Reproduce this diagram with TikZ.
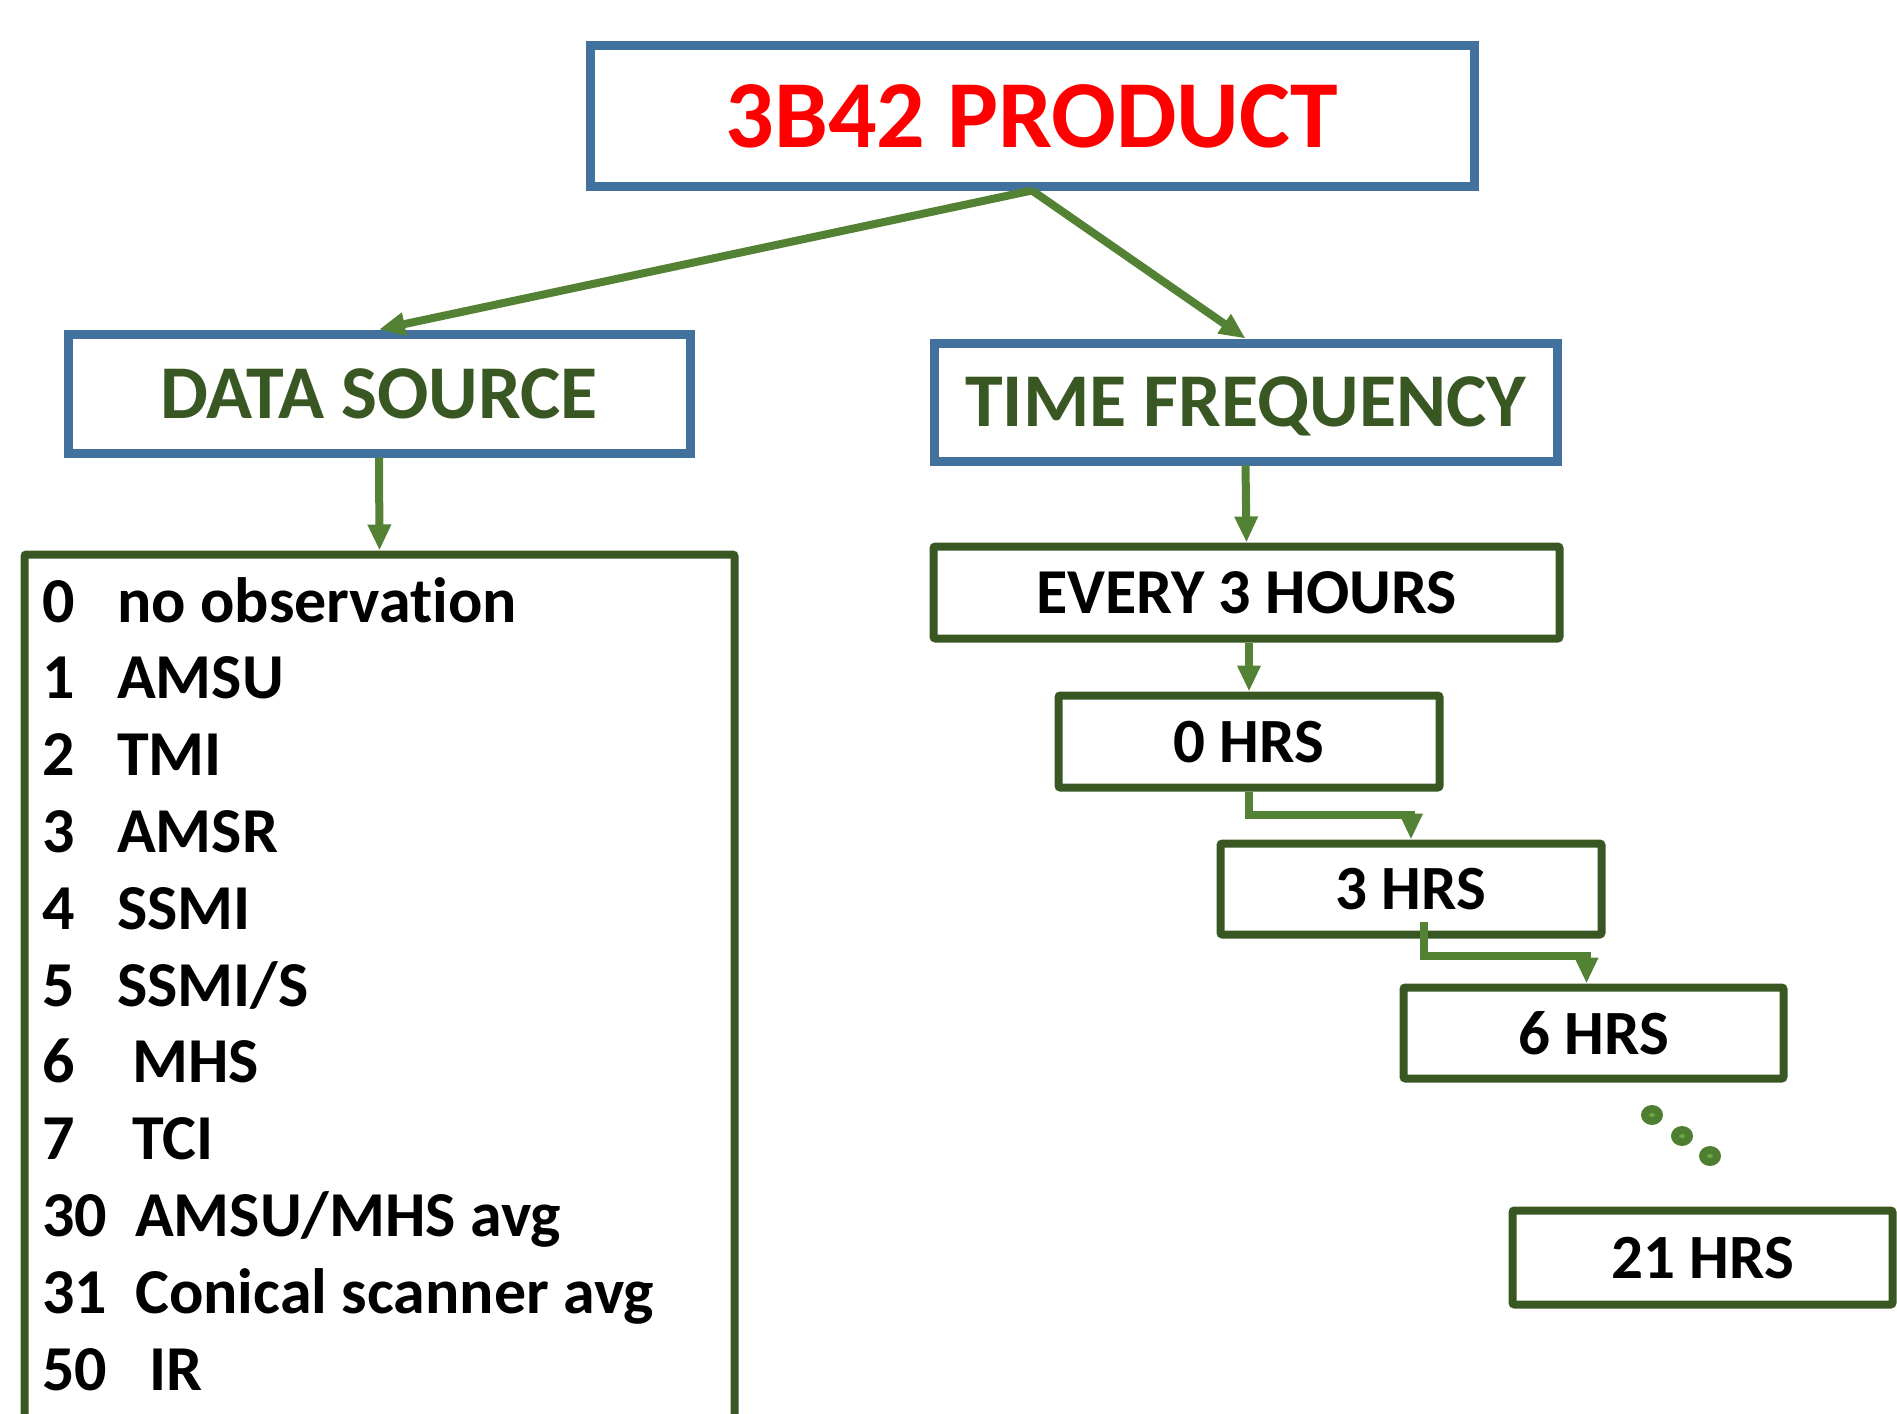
\documentclass[tikz,border=0pt]{standalone}
\usepackage{fontspec}
\setmainfont{Carlito}[Ligatures={NoCommon}]
\usetikzlibrary{arrows.meta,calc}
\definecolor{boxblue}{HTML}{41719C}
\definecolor{boxgreen}{HTML}{385723}
\definecolor{linkgreen}{HTML}{548235}
\definecolor{dotfill}{HTML}{4E7F31}
\definecolor{dotcentre}{HTML}{6DA544}
\newcommand\prodfont{\fontsize{96}{110}\selectfont\bfseries}
\newcommand\headfont{\fontsize{76}{88}\selectfont\bfseries}
\newcommand\stagefont{\fontsize{63}{74}\selectfont\bfseries}
\newcommand\everyfont{\fontsize{64}{75}\selectfont\bfseries}
\newcommand\codefont{\fontsize{64}{75}\selectfont\bfseries}
\begin{document}
\begin{tikzpicture}[x=1pt,y=-1pt,
  headbox/.style={draw=boxblue,line width=9pt,rectangle,inner sep=0pt,text depth=0pt},
  stagebox/.style={draw=boxgreen,line width=8pt,rectangle,rounded corners=2pt,inner sep=0pt,text depth=0pt,font=\stagefont},
  link/.style={draw=linkgreen,line width=8pt,-{Triangle[length=26pt,width=22pt]}},
  codenum/.style={anchor=base west,inner sep=0pt,font=\codefont},
  codetxt/.style={anchor=base west,inner sep=0pt,font=\codefont},
  dotmark/.style={fill=dotfill,draw=none}]
\useasboundingbox (0,0) rectangle (1897,1413);

% headings
\node[headbox,minimum width=884pt,minimum height=140pt,text=red,font=\prodfont] (top) at (1032,116) {3B42 PRODUCT};
\node[headbox,minimum width=622pt,minimum height=119pt,text=boxgreen,font=\headfont] (src) at (379,393.5) {DATA SOURCE};
\node[headbox,minimum width=623pt,minimum height=118pt,text=boxgreen,font=\headfont] (freq) at (1245.5,402) {TIME FREQUENCY};

% list of data sources (box runs off the lower edge)
\node[stagebox,minimum width=710pt,minimum height=885pt] (list) at (379.5,997) {};
\node[codenum] (num0) at (42,622) {0};
\node[codetxt] (src0) at (117,622) {no observation};
\node[codenum] (num1) at (42,698.8) {1};
\node[codetxt] (src1) at (117,698.8) {AMSU};
\node[codenum] (num2) at (42,775.6) {2};
\node[codetxt] (src2) at (117,775.6) {TMI};
\node[codenum] (num3) at (42,852.4) {3};
\node[codetxt] (src3) at (117,852.4) {AMSR};
\node[codenum] (num4) at (42,929.2) {4};
\node[codetxt] (src4) at (117,929.2) {SSMI};
\node[codenum] (num5) at (42,1006) {5};
\node[codetxt] (src5) at (117,1006) {SSMI/S};
\node[codenum] (num6) at (42,1082.8) {6};
\node[codetxt] (src6) at (132,1082.8) {MHS};
\node[codenum] (num7) at (42,1159.6) {7};
\node[codetxt] (src7) at (132,1159.6) {TCI};
\node[codenum] (num8) at (42,1236.4) {30};
\node[codetxt] (src8) at (135,1236.4) {AMSU/MHS avg};
\node[codenum] (num9) at (42,1313.2) {31};
\node[codetxt] (src9) at (135,1313.2) {Conical scanner avg};
\node[codenum] (num10) at (42,1390) {50};
\node[codetxt] (src10) at (149,1390) {IR};

% time steps
\node[stagebox,minimum width=626pt,minimum height=92pt,font=\everyfont] (every) at (1246.5,592.5) {EVERY 3 HOURS};
\node[stagebox,minimum width=381pt,minimum height=92pt] (h0) at (1249,741.5) {0 HRS};
\node[stagebox,minimum width=381pt,minimum height=91pt] (h3) at (1411,889) {3 HRS};
\node[stagebox,minimum width=380pt,minimum height=91pt] (h6) at (1593.5,1033) {6 HRS};
\node[stagebox,minimum width=380pt,minimum height=94pt] (h21) at (1702.5,1257.5) {21 HRS};

% connectors
\draw[link] (top.south) -- (src.north);
\draw[link] (top.south) -- (freq.north);
\draw[link] (src.south) -- (list.north);
\draw[link] (freq.south) -- (every.north);
\draw[link] (h0.north |- every.south) -- (h0.north);
\draw[link] (h0.south) -- ++(0,23) -| (h3.north);
\coordinate (h3tap) at ($(h3.south)+(13,-17)$);
\coordinate (h6in) at ($(h6.north)+(-7,0)$);
\draw[link] (h3tap) -- ++(0,34) -| (h6in);

% ellipsis dots
\foreach \px/\py in {1652/1115,1682/1136,1710/1156}{
  \fill[dotmark] (\px,\py) ellipse[x radius=11pt,y radius=10pt];
  \fill[dotcentre] (\px,\py) ellipse[x radius=3pt,y radius=2pt];
}
\end{tikzpicture}
\end{document}
